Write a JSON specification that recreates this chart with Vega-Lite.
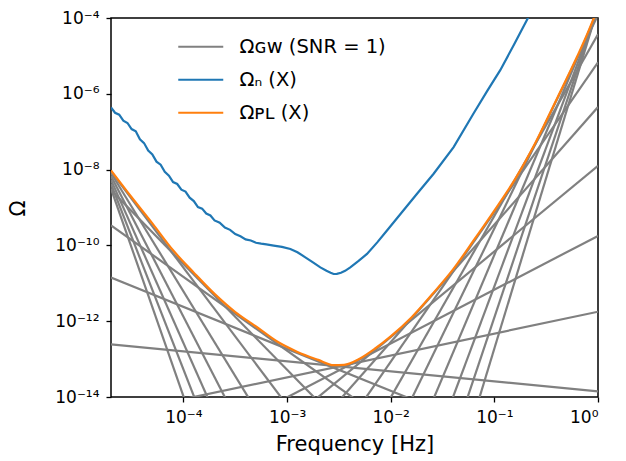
{
  "$schema": "https://vega.github.io/schema/vega-lite/v6.json",
  "width": 487,
  "height": 379,
  "autosize": {"type": "none"},
  "padding": {"left": 111, "top": 18, "right": 28, "bottom": 64},
  "background": "white",
  "config": {
    "font": "DejaVu Sans",
    "view": {"stroke": "black", "strokeWidth": 1.5},
    "axis": {
      "grid": false,
      "domain": false,
      "ticks": true,
      "tickColor": "black",
      "tickSize": 5,
      "tickWidth": 1.3,
      "labelColor": "black",
      "labelFontSize": 17,
      "labelFont": "DejaVu Sans",
      "titleColor": "black",
      "titleFontSize": 21,
      "titleFontWeight": "normal",
      "titleFont": "DejaVu Sans"
    },
    "legend": {
      "orient": "none",
      "legendX": 80,
      "legendY": 19,
      "padding": 0,
      "title": null,
      "symbolType": "M-3,0H3",
      "symbolSize": 225,
      "symbolStrokeWidth": 2.2,
      "labelFontSize": 19.5,
      "labelFont": "DejaVu Sans",
      "labelColor": "black",
      "labelOffset": 29,
      "rowPadding": 12
    }
  },
  "datasets": {
    "grey": [
      {"id": 1, "s": "Ωɢᴡ (SNR = 1)", "f": 2e-5, "o": 3.162e-9}, {"id": 1, "s": "Ωɢᴡ (SNR = 1)", "f": 1, "o": 4.571e-46},
      {"id": 2, "s": "Ωɢᴡ (SNR = 1)", "f": 2e-5, "o": 4.169e-9}, {"id": 2, "s": "Ωɢᴡ (SNR = 1)", "f": 1, "o": 5.370e-42},
      {"id": 3, "s": "Ωɢᴡ (SNR = 1)", "f": 2e-5, "o": 5.370e-9}, {"id": 3, "s": "Ωɢᴡ (SNR = 1)", "f": 1, "o": 6.026e-38},
      {"id": 4, "s": "Ωɢᴡ (SNR = 1)", "f": 2e-5, "o": 6.761e-9}, {"id": 4, "s": "Ωɢᴡ (SNR = 1)", "f": 1, "o": 7.586e-34},
      {"id": 5, "s": "Ωɢᴡ (SNR = 1)", "f": 2e-5, "o": 8.128e-9}, {"id": 5, "s": "Ωɢᴡ (SNR = 1)", "f": 1, "o": 8.128e-30},
      {"id": 6, "s": "Ωɢᴡ (SNR = 1)", "f": 2e-5, "o": 8.913e-9}, {"id": 6, "s": "Ωɢᴡ (SNR = 1)", "f": 1, "o": 7.762e-26},
      {"id": 7, "s": "Ωɢᴡ (SNR = 1)", "f": 2e-5, "o": 2.884e-9}, {"id": 7, "s": "Ωɢᴡ (SNR = 1)", "f": 1, "o": 2.239e-22},
      {"id": 8, "s": "Ωɢᴡ (SNR = 1)", "f": 2e-5, "o": 3.388e-10}, {"id": 8, "s": "Ωɢᴡ (SNR = 1)", "f": 1, "o": 2.399e-19},
      {"id": 9, "s": "Ωɢᴡ (SNR = 1)", "f": 2e-5, "o": 1.413e-11}, {"id": 9, "s": "Ωɢᴡ (SNR = 1)", "f": 1, "o": 8.913e-17},
      {"id": 10, "s": "Ωɢᴡ (SNR = 1)", "f": 2e-5, "o": 2.455e-13}, {"id": 10, "s": "Ωɢᴡ (SNR = 1)", "f": 1, "o": 1.413e-14},
      {"id": 11, "s": "Ωɢᴡ (SNR = 1)", "f": 2e-5, "o": 3.467e-15}, {"id": 11, "s": "Ωɢᴡ (SNR = 1)", "f": 1, "o": 1.778e-12},
      {"id": 12, "s": "Ωɢᴡ (SNR = 1)", "f": 2e-5, "o": 3.802e-17}, {"id": 12, "s": "Ωɢᴡ (SNR = 1)", "f": 1, "o": 1.778e-10},
      {"id": 13, "s": "Ωɢᴡ (SNR = 1)", "f": 2e-5, "o": 3.020e-19}, {"id": 13, "s": "Ωɢᴡ (SNR = 1)", "f": 1, "o": 1.259e-8},
      {"id": 14, "s": "Ωɢᴡ (SNR = 1)", "f": 2e-5, "o": 1.202e-21}, {"id": 14, "s": "Ωɢᴡ (SNR = 1)", "f": 1, "o": 4.467e-7},
      {"id": 15, "s": "Ωɢᴡ (SNR = 1)", "f": 2e-5, "o": 1.862e-24}, {"id": 15, "s": "Ωɢᴡ (SNR = 1)", "f": 1, "o": 6.761e-6},
      {"id": 16, "s": "Ωɢᴡ (SNR = 1)", "f": 2e-5, "o": 1.148e-27}, {"id": 16, "s": "Ωɢᴡ (SNR = 1)", "f": 1, "o": 3.715e-5},
      {"id": 17, "s": "Ωɢᴡ (SNR = 1)", "f": 2e-5, "o": 4.169e-31}, {"id": 17, "s": "Ωɢᴡ (SNR = 1)", "f": 1, "o": 1.202e-4},
      {"id": 18, "s": "Ωɢᴡ (SNR = 1)", "f": 2e-5, "o": 6.607e-35}, {"id": 18, "s": "Ωɢᴡ (SNR = 1)", "f": 1, "o": 1.660e-4},
      {"id": 19, "s": "Ωɢᴡ (SNR = 1)", "f": 2e-5, "o": 6.918e-39}, {"id": 19, "s": "Ωɢᴡ (SNR = 1)", "f": 1, "o": 1.738e-4},
      {"id": 20, "s": "Ωɢᴡ (SNR = 1)", "f": 2e-5, "o": 8.318e-43}, {"id": 20, "s": "Ωɢᴡ (SNR = 1)", "f": 1, "o": 1.820e-4},
      {"id": 21, "s": "Ωɢᴡ (SNR = 1)", "f": 2e-5, "o": 9.772e-47}, {"id": 21, "s": "Ωɢᴡ (SNR = 1)", "f": 1, "o": 1.905e-4}
    ],
    "noise": [
      {"s": "Ωₙ (X)", "f": 2.0e-5, "o": 4.365e-7},
      {"s": "Ωₙ (X)", "f": 2.188e-5, "o": 3.162e-7},
      {"s": "Ωₙ (X)", "f": 2.399e-5, "o": 2.818e-7},
      {"s": "Ωₙ (X)", "f": 2.630e-5, "o": 1.950e-7},
      {"s": "Ωₙ (X)", "f": 2.884e-5, "o": 1.698e-7},
      {"s": "Ωₙ (X)", "f": 3.162e-5, "o": 1.175e-7},
      {"s": "Ωₙ (X)", "f": 3.467e-5, "o": 1.023e-7},
      {"s": "Ωₙ (X)", "f": 3.802e-5, "o": 6.310e-8},
      {"s": "Ωₙ (X)", "f": 4.169e-5, "o": 5.012e-8},
      {"s": "Ωₙ (X)", "f": 4.571e-5, "o": 3.162e-8},
      {"s": "Ωₙ (X)", "f": 5.012e-5, "o": 2.512e-8},
      {"s": "Ωₙ (X)", "f": 5.495e-5, "o": 1.622e-8},
      {"s": "Ωₙ (X)", "f": 6.026e-5, "o": 1.349e-8},
      {"s": "Ωₙ (X)", "f": 6.607e-5, "o": 8.710e-9},
      {"s": "Ωₙ (X)", "f": 7.244e-5, "o": 6.918e-9},
      {"s": "Ωₙ (X)", "f": 7.943e-5, "o": 4.677e-9},
      {"s": "Ωₙ (X)", "f": 8.710e-5, "o": 4.169e-9},
      {"s": "Ωₙ (X)", "f": 9.550e-5, "o": 2.951e-9},
      {"s": "Ωₙ (X)", "f": 1.047e-4, "o": 2.630e-9},
      {"s": "Ωₙ (X)", "f": 1.148e-4, "o": 1.820e-9},
      {"s": "Ωₙ (X)", "f": 1.259e-4, "o": 1.479e-9},
      {"s": "Ωₙ (X)", "f": 1.380e-4, "o": 1.023e-9},
      {"s": "Ωₙ (X)", "f": 1.514e-4, "o": 9.333e-10},
      {"s": "Ωₙ (X)", "f": 1.660e-4, "o": 6.918e-10},
      {"s": "Ωₙ (X)", "f": 1.820e-4, "o": 6.166e-10},
      {"s": "Ωₙ (X)", "f": 1.995e-4, "o": 4.571e-10},
      {"s": "Ωₙ (X)", "f": 2.239e-4, "o": 3.981e-10},
      {"s": "Ωₙ (X)", "f": 2.512e-4, "o": 2.951e-10},
      {"s": "Ωₙ (X)", "f": 2.818e-4, "o": 2.570e-10},
      {"s": "Ωₙ (X)", "f": 3.162e-4, "o": 1.995e-10},
      {"s": "Ωₙ (X)", "f": 3.548e-4, "o": 1.738e-10},
      {"s": "Ωₙ (X)", "f": 3.981e-4, "o": 1.445e-10},
      {"s": "Ωₙ (X)", "f": 4.467e-4, "o": 1.349e-10},
      {"s": "Ωₙ (X)", "f": 5.012e-4, "o": 1.175e-10},
      {"s": "Ωₙ (X)", "f": 5.623e-4, "o": 1.109e-10},
      {"s": "Ωₙ (X)", "f": 6.310e-4, "o": 1.059e-10},
      {"s": "Ωₙ (X)", "f": 7.430e-4, "o": 9.886e-11},
      {"s": "Ωₙ (X)", "f": 8.913e-4, "o": 9.120e-11},
      {"s": "Ωₙ (X)", "f": 1.076e-3, "o": 8.072e-11},
      {"s": "Ωₙ (X)", "f": 1.259e-3, "o": 6.607e-11},
      {"s": "Ωₙ (X)", "f": 1.500e-3, "o": 4.842e-11},
      {"s": "Ωₙ (X)", "f": 1.778e-3, "o": 3.548e-11},
      {"s": "Ωₙ (X)", "f": 2.094e-3, "o": 2.636e-11},
      {"s": "Ωₙ (X)", "f": 2.399e-3, "o": 2.138e-11},
      {"s": "Ωₙ (X)", "f": 2.630e-3, "o": 1.905e-11},
      {"s": "Ωₙ (X)", "f": 2.812e-3, "o": 1.762e-11},
      {"s": "Ωₙ (X)", "f": 3.020e-3, "o": 1.778e-11},
      {"s": "Ωₙ (X)", "f": 3.311e-3, "o": 1.905e-11},
      {"s": "Ωₙ (X)", "f": 3.631e-3, "o": 2.138e-11},
      {"s": "Ωₙ (X)", "f": 4.074e-3, "o": 2.636e-11},
      {"s": "Ωₙ (X)", "f": 4.898e-3, "o": 3.890e-11},
      {"s": "Ωₙ (X)", "f": 5.902e-3, "o": 5.957e-11},
      {"s": "Ωₙ (X)", "f": 7.413e-3, "o": 1.202e-10},
      {"s": "Ωₙ (X)", "f": 9.204e-3, "o": 2.466e-10},
      {"s": "Ωₙ (X)", "f": 1.259e-2, "o": 7.079e-10},
      {"s": "Ωₙ (X)", "f": 1.778e-2, "o": 2.239e-9},
      {"s": "Ωₙ (X)", "f": 2.594e-2, "o": 7.798e-9},
      {"s": "Ωₙ (X)", "f": 4.046e-2, "o": 3.936e-8},
      {"s": "Ωₙ (X)", "f": 6.295e-2, "o": 3.013e-7},
      {"s": "Ωₙ (X)", "f": 8.511e-2, "o": 1.175e-6},
      {"s": "Ωₙ (X)", "f": 0.1140, "o": 4.207e-6},
      {"s": "Ωₙ (X)", "f": 0.1549, "o": 1.995e-5},
      {"s": "Ωₙ (X)", "f": 0.2061, "o": 8.851e-5},
      {"s": "Ωₙ (X)", "f": 0.2512, "o": 2.512e-4}
    ],
    "pl": [
      {"s": "Ωᴘʟ (X)", "f": 2.0e-5, "o": 9.550e-9},
      {"s": "Ωᴘʟ (X)", "f": 3.162e-5, "o": 1.862e-9},
      {"s": "Ωᴘʟ (X)", "f": 5.012e-5, "o": 3.802e-10},
      {"s": "Ωᴘʟ (X)", "f": 7.943e-5, "o": 7.413e-11},
      {"s": "Ωᴘʟ (X)", "f": 1.259e-4, "o": 1.905e-11},
      {"s": "Ωᴘʟ (X)", "f": 1.995e-4, "o": 5.248e-12},
      {"s": "Ωᴘʟ (X)", "f": 3.162e-4, "o": 1.738e-12},
      {"s": "Ωᴘʟ (X)", "f": 5.012e-4, "o": 7.244e-13},
      {"s": "Ωᴘʟ (X)", "f": 7.943e-4, "o": 2.951e-13},
      {"s": "Ωᴘʟ (X)", "f": 1.259e-3, "o": 1.549e-13},
      {"s": "Ωᴘʟ (X)", "f": 1.995e-3, "o": 9.550e-14},
      {"s": "Ωᴘʟ (X)", "f": 2.818e-3, "o": 6.918e-14},
      {"s": "Ωᴘʟ (X)", "f": 3.548e-3, "o": 7.079e-14},
      {"s": "Ωᴘʟ (X)", "f": 5.012e-3, "o": 1.023e-13},
      {"s": "Ωᴘʟ (X)", "f": 7.079e-3, "o": 1.905e-13},
      {"s": "Ωᴘʟ (X)", "f": 1.0e-2, "o": 3.981e-13},
      {"s": "Ωᴘʟ (X)", "f": 1.585e-2, "o": 1.259e-12},
      {"s": "Ωᴘʟ (X)", "f": 2.512e-2, "o": 5.129e-12},
      {"s": "Ωᴘʟ (X)", "f": 3.981e-2, "o": 2.291e-11},
      {"s": "Ωᴘʟ (X)", "f": 6.310e-2, "o": 1.349e-10},
      {"s": "Ωᴘʟ (X)", "f": 0.1, "o": 8.318e-10},
      {"s": "Ωᴘʟ (X)", "f": 0.1585, "o": 5.623e-9},
      {"s": "Ωᴘʟ (X)", "f": 0.2512, "o": 5.370e-8},
      {"s": "Ωᴘʟ (X)", "f": 0.3981, "o": 7.079e-7},
      {"s": "Ωᴘʟ (X)", "f": 0.6310, "o": 9.772e-6},
      {"s": "Ωᴘʟ (X)", "f": 0.7943, "o": 3.981e-5},
      {"s": "Ωᴘʟ (X)", "f": 0.9120, "o": 1.0e-4},
      {"s": "Ωᴘʟ (X)", "f": 1.0, "o": 1.905e-4}
    ]
  },
  "encoding": {
    "x": {
      "field": "f",
      "type": "quantitative",
      "scale": {"type": "log", "domain": [2e-5, 1], "nice": false},
      "axis": {
        "title": "Frequency [Hz]",
        "values": [0.0001, 0.001, 0.01, 0.1, 1],
        "labelExpr": "datum.value < 0.0005 ? '10⁻⁴' : datum.value < 0.005 ? '10⁻³' : datum.value < 0.05 ? '10⁻²' : datum.value < 0.5 ? '10⁻¹' : '10⁰'",
        "labelPadding": 7,
        "titleY": 53,
        "titleBaseline": "alphabetic"
      }
    },
    "y": {
      "field": "o",
      "type": "quantitative",
      "scale": {"type": "log", "domain": [1e-14, 1e-4], "nice": false},
      "axis": {
        "title": "Ω",
        "values": [1e-14, 1e-12, 1e-10, 1e-8, 1e-6, 1e-4],
        "labelExpr": "datum.value < 1e-13 ? '10⁻¹⁴' : datum.value < 1e-11 ? '10⁻¹²' : datum.value < 1e-9 ? '10⁻¹⁰' : datum.value < 1e-7 ? '10⁻⁸' : datum.value < 1e-5 ? '10⁻⁶' : '10⁻⁴'",
        "labelPadding": 7,
        "titleX": -93,
        "titleY": 190,
        "titleAngle": 270,
        "titleAlign": "center",
        "titleBaseline": "middle"
      }
    },
    "color": {
      "field": "s",
      "type": "nominal",
      "scale": {
        "domain": ["Ωɢᴡ (SNR = 1)", "Ωₙ (X)", "Ωᴘʟ (X)"],
        "range": ["#808080", "#1f77b4", "#ff7f0e"]
      }
    }
  },
  "layer": [
    {
      "data": {"name": "grey"},
      "mark": {"type": "line", "clip": true, "strokeWidth": 2.2},
      "encoding": {"detail": {"field": "id", "type": "nominal"}}
    },
    {
      "data": {"name": "noise"},
      "mark": {"type": "line", "clip": true, "strokeWidth": 2.2},
      "encoding": {}
    },
    {
      "data": {"name": "pl"},
      "mark": {"type": "line", "clip": true, "strokeWidth": 2.2, "interpolate": "monotone"},
      "encoding": {}
    }
  ]
}
